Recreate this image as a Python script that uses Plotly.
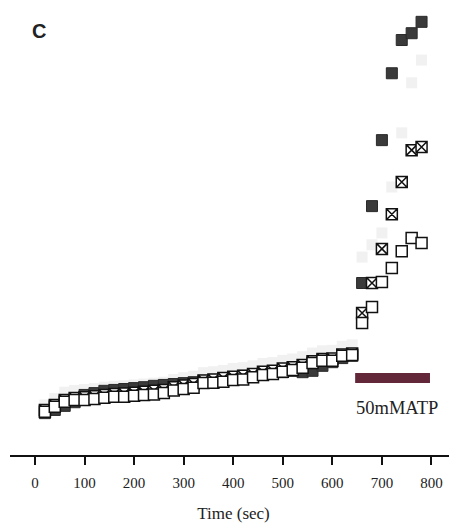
import plotly.graph_objects as go

# Time points (sec)
time = [20, 40, 60, 80, 100, 120, 140, 160, 180, 200, 220, 240, 260, 280, 300, 320,
        340, 360, 380, 400, 420, 440, 460, 480, 500, 520, 540, 560, 580, 600, 620, 640,
        660, 680, 700, 720, 740, 760, 780]

# Signal (arbitrary units)
open_sq = [9.5, 10.6, 11.7, 12.1, 12.1, 12.3, 12.6, 12.8, 12.8, 13.0, 13.2, 13.3, 13.6, 14.2,
           14.5, 14.8, 15.8, 15.9, 16.1, 16.5, 16.6, 17.1, 17.6, 17.8, 18.3, 18.7, 19.2, 20.2,
           20.7, 20.7, 21.8, 22.0,
           29.0, 32.5, 38.0, 41.1, 44.8, 47.7, 46.6]
crossed_sq = [9.9, 11.0, 12.1, 12.5, 12.7, 12.9, 13.2, 13.4, 13.5, 13.7, 13.9, 14.1, 14.3, 14.9,
              15.3, 15.6, 16.4, 16.6, 16.9, 17.2, 17.4, 17.8, 18.3, 18.5, 19.0, 19.3, 19.8, 20.6,
              21.1, 21.2, 22.1, 22.3,
              31.2, 37.8, 45.3, 52.9, 60.0, 67.0, 67.7]
filled_sq = [9.2, 9.9, 10.8, 11.6, 13.2, 13.6, 14.1, 14.3, 14.5, 14.7, 14.9, 15.2, 15.4, 15.6,
             15.8, 16.0, 16.3, 16.5, 16.7, 17.1, 17.4, 17.8, 18.0, 18.2, 18.2, 18.5, 18.2, 18.5,
             19.6, 20.4, 21.3, 21.8,
             37.8, 54.7, 69.2, 83.9, 91.2, 92.7, 95.2]
gray_sq = [11.0, 12.4, 13.8, 14.2, 14.4, 14.6, 14.9, 15.1, 15.2, 15.4, 15.6, 15.8, 16.0, 16.6,
           17.0, 17.3, 18.1, 18.3, 18.6, 19.0, 19.2, 19.6, 20.1, 20.3, 20.8, 21.1, 21.6, 22.4,
           22.9, 23.0, 23.9, 24.2,
           43.5, 46.2, 48.8, 58.9, 70.8, 81.8, 86.8]

x_ticks = [0, 100, 200, 300, 400, 500, 600, 700, 800]
atp_start, atp_end = 646, 797
atp_label = "50mMATP"

fig = go.Figure()

fig.add_trace(go.Scatter(x=time, y=gray_sq, mode="markers",
                         marker=dict(symbol="square", size=11, color="#f1f1f1",
                                     line=dict(width=0))))
fig.add_trace(go.Scatter(x=time, y=filled_sq, mode="markers",
                         marker=dict(symbol="square", size=11, color="#3a3a3a",
                                     line=dict(color="#2a2a2a", width=1))))
fig.add_trace(go.Scatter(x=time, y=crossed_sq, mode="markers",
                         marker=dict(symbol="square-x", size=11, color="white",
                                     line=dict(color="#111111", width=1.5))))
fig.add_trace(go.Scatter(x=time, y=open_sq, mode="markers",
                         marker=dict(symbol="square", size=11, color="white",
                                     line=dict(color="#111111", width=1.5))))

# ATP application bar
fig.add_shape(type="rect", xref="x", yref="y", x0=atp_start, x1=atp_end, y0=15.8, y1=18.0,
              fillcolor="#62283a", line=dict(width=0))
fig.add_annotation(x=731, y=10.3, text=atp_label, showarrow=False,
                   xanchor="center", yanchor="middle",
                   font=dict(family="Liberation Serif", size=18.5, color="#222222"))

fig.add_annotation(xref="paper", yref="paper", x=(39 - 10) / 447, y=1 - (31 - 8) / 447,
                   text="<b>C</b>", showarrow=False, xanchor="center", yanchor="middle",
                   font=dict(family="Liberation Sans", size=20, color="#222222"))

fig.update_layout(
    width=449, height=521,
    margin=dict(l=2, r=0, t=0, b=74),
    paper_bgcolor="white", plot_bgcolor="white",
    showlegend=False,
    xaxis=dict(range=[-50.4, 851.5], tickvals=x_ticks, ticktext=[str(v) for v in x_ticks],
               showline=True, linecolor="#111111", linewidth=1.5, ticks="outside",
               ticklen=8, tickwidth=1.5, tickcolor="#111111", showgrid=False, zeroline=False,
               ticklabelstandoff=5,
               tickfont=dict(family="Liberation Serif", size=15, color="#222222"),
               title=dict(text="Time (sec)", standoff=17,
                          font=dict(family="Liberation Serif", size=17, color="#222222")),
               automargin=False),
    yaxis=dict(range=[0, 98.24], visible=False, showgrid=False, zeroline=False),
)

fig.write_html("out.html")
